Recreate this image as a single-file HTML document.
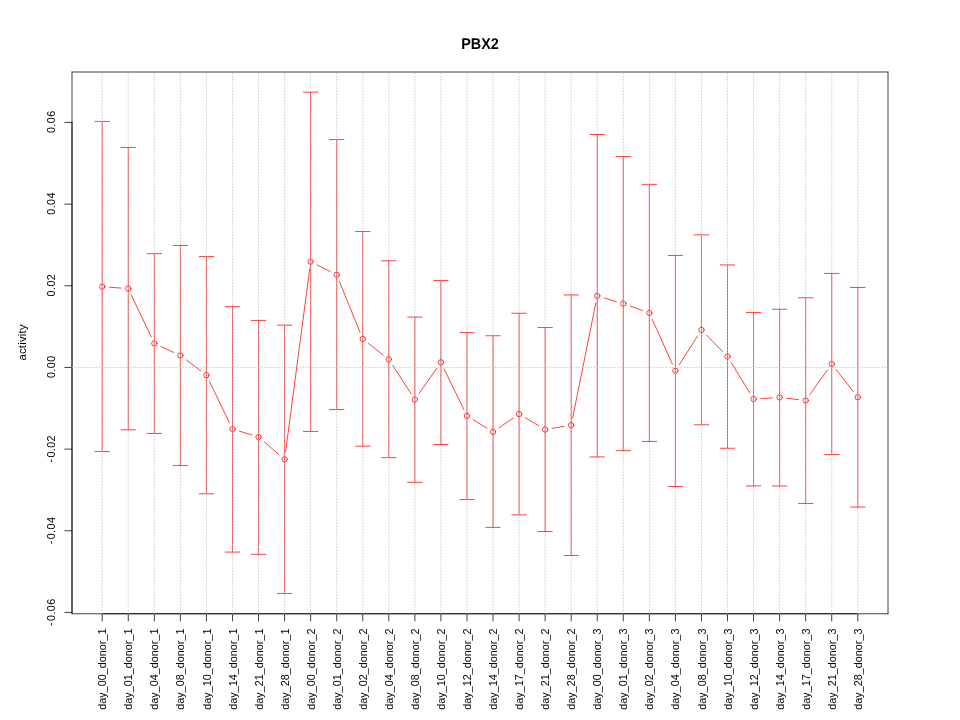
<!DOCTYPE html><html><head><meta charset="utf-8"><style>html,body{margin:0;padding:0;background:#fff;}svg{display:block;}text{font-family:"Liberation Sans",sans-serif;}</style></head><body>
<svg width="960" height="720" viewBox="0 0 960 720" style="will-change:transform">
<rect width="960" height="720" fill="#fff"/>
<path d="M102.22 121.45V451.55M95.02 121.45H109.42M95.02 451.55H109.42M128.28 147.45V429.85M121.08 147.45H135.48M121.08 429.85H135.48M154.33 253.65V433.45M147.13 253.65H161.53M147.13 433.45H161.53M180.38 245.45V465.45M173.18 245.45H187.58M173.18 465.45H187.58M206.44 256.55V493.75M199.24 256.55H213.64M199.24 493.75H213.64M232.49 306.65V552.05M225.29 306.65H239.69M225.29 552.05H239.69M258.54 320.45V554.35M251.34 320.45H265.74M251.34 554.35H265.74M284.6 325.15V593.45M277.4 325.15H291.8M277.4 593.45H291.8M310.65 92.15V431.45M303.45 92.15H317.85M303.45 431.45H317.85M336.7 139.55V409.55M329.5 139.55H343.9M329.5 409.55H343.9M362.76 231.55V446.15M355.56 231.55H369.96M355.56 446.15H369.96M388.81 260.75V457.65M381.61 260.75H396.01M381.61 457.65H396.01M414.87 317.05V482.35M407.67 317.05H422.07M407.67 482.35H422.07M440.92 280.45V444.55M433.72 280.45H448.12M433.72 444.55H448.12M466.97 332.65V499.55M459.77 332.65H474.17M459.77 499.55H474.17M493.03 335.75V527.35M485.83 335.75H500.23M485.83 527.35H500.23M519.08 313.25V514.85M511.88 313.25H526.28M511.88 514.85H526.28M545.13 327.55V531.55M537.93 327.55H552.33M537.93 531.55H552.33M571.19 294.95V555.45M563.99 294.95H578.39M563.99 555.45H578.39M597.24 134.55V456.95M590.04 134.55H604.44M590.04 456.95H604.44M623.3 156.55V450.65M616.1 156.55H630.5M616.1 450.65H630.5M649.35 184.35V441.45M642.15 184.35H656.55M642.15 441.45H656.55M675.4 255.45V486.55M668.2 255.45H682.6M668.2 486.55H682.6M701.46 234.85V424.75M694.26 234.85H708.66M694.26 424.75H708.66M727.51 264.95V448.25M720.31 264.95H734.71M720.31 448.25H734.71M753.56 312.55V485.95M746.36 312.55H760.76M746.36 485.95H760.76M779.62 309.25V485.95M772.42 309.25H786.82M772.42 485.95H786.82M805.67 297.75V503.45M798.47 297.75H812.87M798.47 503.45H812.87M831.72 273.45V454.55M824.52 273.45H838.92M824.52 454.55H838.92M857.78 287.45V507.05M850.58 287.45H864.98M850.58 507.05H864.98" stroke="#FF0000" stroke-width="0.75" stroke-linecap="round" fill="none"/>
<path d="M109.4 287.2L121.1 288.1M131.37 295.15L151.24 336.95M160.87 346.46L173.84 352.44M186.13 359.79L200.69 370.81M209.57 381.63L229.36 422.57M239.37 431.16L251.66 434.94M264.01 441.73L279.13 454.67M285.54 452.21L309.71 268.79M317.08 264.88L330.27 271.52M339.41 281.42L360.05 332.38M368.44 343.48L383.13 354.92M392.73 365.39L410.95 393.51M419 393.65L436.79 368.25M444.07 368.83L463.83 409.47M473.12 419.7L486.88 428.1M498.97 427.79L513.14 418.11M525.27 417.73L538.95 425.87M552.23 428.35L564.09 426.35M572.61 418.09L595.82 302.91M604.14 297.91L616.4 301.59M630.08 306.07L642.57 310.53M652.31 319.51L672.44 364.19M679.28 364.68L697.58 336.02M706.49 335.09L722.47 351.41M731.28 362.68L749.79 392.82M760.75 398.54L772.43 397.86M786.77 398.27L798.52 399.63M809.85 394.59L827.54 369.81M836.16 369.62L853.34 391.58" stroke="#FF0000" stroke-width="0.75" stroke-linecap="round" fill="none"/>
<g stroke="#FF0000" stroke-width="0.75" stroke-linecap="round" fill="none"><circle cx="102.22" cy="286.65" r="2.7"/><circle cx="128.28" cy="288.65" r="2.7"/><circle cx="154.33" cy="343.45" r="2.7"/><circle cx="180.38" cy="355.45" r="2.7"/><circle cx="206.44" cy="375.15" r="2.7"/><circle cx="232.49" cy="429.05" r="2.7"/><circle cx="258.54" cy="437.05" r="2.7"/><circle cx="284.6" cy="459.35" r="2.7"/><circle cx="310.65" cy="261.65" r="2.7"/><circle cx="336.7" cy="274.75" r="2.7"/><circle cx="362.76" cy="339.05" r="2.7"/><circle cx="388.81" cy="359.35" r="2.7"/><circle cx="414.87" cy="399.55" r="2.7"/><circle cx="440.92" cy="362.35" r="2.7"/><circle cx="466.97" cy="415.95" r="2.7"/><circle cx="493.03" cy="431.85" r="2.7"/><circle cx="519.08" cy="414.05" r="2.7"/><circle cx="545.13" cy="429.55" r="2.7"/><circle cx="571.19" cy="425.15" r="2.7"/><circle cx="597.24" cy="295.85" r="2.7"/><circle cx="623.3" cy="303.65" r="2.7"/><circle cx="649.35" cy="312.95" r="2.7"/><circle cx="675.4" cy="370.75" r="2.7"/><circle cx="701.46" cy="329.95" r="2.7"/><circle cx="727.51" cy="356.55" r="2.7"/><circle cx="753.56" cy="398.95" r="2.7"/><circle cx="779.62" cy="397.45" r="2.7"/><circle cx="805.67" cy="400.45" r="2.7"/><circle cx="831.72" cy="363.95" r="2.7"/><circle cx="857.78" cy="397.25" r="2.7"/></g>
<path d="M72 72H888" stroke="#000" stroke-width="0.75" stroke-linecap="round" fill="none"/>
<path d="M888 72V613.75" stroke="#000" stroke-width="0.75" stroke-linecap="round" fill="none"/>
<path d="M888 613.75H72" stroke="#000" stroke-width="0.75" stroke-linecap="round" fill="none"/>
<path d="M72 613.75V72" stroke="#000" stroke-width="0.75" stroke-linecap="round" fill="none"/>
<path d="M72 122.44V612.44M72 122.44H64.8M72 204.11H64.8M72 285.77H64.8M72 367.44H64.8M72 449.11H64.8M72 530.77H64.8M72 612.44H64.8M102.22 613.75H857.78M102.22 613.75V620.95M128.28 613.75V620.95M154.33 613.75V620.95M180.38 613.75V620.95M206.44 613.75V620.95M232.49 613.75V620.95M258.54 613.75V620.95M284.6 613.75V620.95M310.65 613.75V620.95M336.7 613.75V620.95M362.76 613.75V620.95M388.81 613.75V620.95M414.87 613.75V620.95M440.92 613.75V620.95M466.97 613.75V620.95M493.03 613.75V620.95M519.08 613.75V620.95M545.13 613.75V620.95M571.19 613.75V620.95M597.24 613.75V620.95M623.3 613.75V620.95M649.35 613.75V620.95M675.4 613.75V620.95M701.46 613.75V620.95M727.51 613.75V620.95M753.56 613.75V620.95M779.62 613.75V620.95M805.67 613.75V620.95M831.72 613.75V620.95M857.78 613.75V620.95" stroke="#000" stroke-width="0.75" stroke-linecap="round" fill="none"/>
<path d="M102.22 73.12V613.75M128.28 73.12V613.75M154.33 73.12V613.75M180.38 73.12V613.75M206.44 73.12V613.75M232.49 73.12V613.75M258.54 73.12V613.75M284.6 73.12V613.75M310.65 73.12V613.75M336.7 73.12V613.75M362.76 73.12V613.75M388.81 73.12V613.75M414.87 73.12V613.75M440.92 73.12V613.75M466.97 73.12V613.75M493.03 73.12V613.75M519.08 73.12V613.75M545.13 73.12V613.75M571.19 73.12V613.75M597.24 73.12V613.75M623.3 73.12V613.75M649.35 73.12V613.75M675.4 73.12V613.75M701.46 73.12V613.75M727.51 73.12V613.75M753.56 73.12V613.75M779.62 73.12V613.75M805.67 73.12V613.75M831.72 73.12V613.75M857.78 73.12V613.75" stroke="#BEBEBE" stroke-width="0.75" stroke-linecap="round" stroke-dasharray="0.75 2.25" fill="none"/>
<path d="M72 367.44H888" stroke="#BEBEBE" stroke-width="0.75" stroke-linecap="round" stroke-dasharray="0.75 2.25" fill="none"/>
<text transform="translate(55.1 121.74) rotate(-90)" text-anchor="middle" font-size="10.8" letter-spacing="0.4">0.06</text>
<text transform="translate(55.1 203.41) rotate(-90)" text-anchor="middle" font-size="10.8" letter-spacing="0.4">0.04</text>
<text transform="translate(55.1 285.07) rotate(-90)" text-anchor="middle" font-size="10.8" letter-spacing="0.4">0.02</text>
<text transform="translate(55.1 366.74) rotate(-90)" text-anchor="middle" font-size="10.8" letter-spacing="0.4">0.00</text>
<text transform="translate(55.1 448.81) rotate(-90)" text-anchor="middle" font-size="10.8" letter-spacing="0.4"><tspan dy="-1.3">-</tspan><tspan dy="1.3" dx="1">0.02</tspan></text>
<text transform="translate(55.1 530.47) rotate(-90)" text-anchor="middle" font-size="10.8" letter-spacing="0.4"><tspan dy="-1.3">-</tspan><tspan dy="1.3" dx="1">0.04</tspan></text>
<text transform="translate(55.1 612.14) rotate(-90)" text-anchor="middle" font-size="10.8" letter-spacing="0.4"><tspan dy="-1.3">-</tspan><tspan dy="1.3" dx="1">0.06</tspan></text>
<text transform="translate(106.3 628.6) rotate(-90)" text-anchor="end" font-size="10.8">day_00_donor_1</text>
<text transform="translate(132.36 628.6) rotate(-90)" text-anchor="end" font-size="10.8">day_01_donor_1</text>
<text transform="translate(158.41 628.6) rotate(-90)" text-anchor="end" font-size="10.8">day_04_donor_1</text>
<text transform="translate(184.46 628.6) rotate(-90)" text-anchor="end" font-size="10.8">day_08_donor_1</text>
<text transform="translate(210.52 628.6) rotate(-90)" text-anchor="end" font-size="10.8">day_10_donor_1</text>
<text transform="translate(236.57 628.6) rotate(-90)" text-anchor="end" font-size="10.8">day_14_donor_1</text>
<text transform="translate(262.62 628.6) rotate(-90)" text-anchor="end" font-size="10.8">day_21_donor_1</text>
<text transform="translate(288.68 628.6) rotate(-90)" text-anchor="end" font-size="10.8">day_28_donor_1</text>
<text transform="translate(314.73 628.6) rotate(-90)" text-anchor="end" font-size="10.8">day_00_donor_2</text>
<text transform="translate(340.78 628.6) rotate(-90)" text-anchor="end" font-size="10.8">day_01_donor_2</text>
<text transform="translate(366.84 628.6) rotate(-90)" text-anchor="end" font-size="10.8">day_02_donor_2</text>
<text transform="translate(392.89 628.6) rotate(-90)" text-anchor="end" font-size="10.8">day_04_donor_2</text>
<text transform="translate(418.95 628.6) rotate(-90)" text-anchor="end" font-size="10.8">day_08_donor_2</text>
<text transform="translate(445 628.6) rotate(-90)" text-anchor="end" font-size="10.8">day_10_donor_2</text>
<text transform="translate(471.05 628.6) rotate(-90)" text-anchor="end" font-size="10.8">day_12_donor_2</text>
<text transform="translate(497.11 628.6) rotate(-90)" text-anchor="end" font-size="10.8">day_14_donor_2</text>
<text transform="translate(523.16 628.6) rotate(-90)" text-anchor="end" font-size="10.8">day_17_donor_2</text>
<text transform="translate(549.21 628.6) rotate(-90)" text-anchor="end" font-size="10.8">day_21_donor_2</text>
<text transform="translate(575.27 628.6) rotate(-90)" text-anchor="end" font-size="10.8">day_28_donor_2</text>
<text transform="translate(601.32 628.6) rotate(-90)" text-anchor="end" font-size="10.8">day_00_donor_3</text>
<text transform="translate(627.38 628.6) rotate(-90)" text-anchor="end" font-size="10.8">day_01_donor_3</text>
<text transform="translate(653.43 628.6) rotate(-90)" text-anchor="end" font-size="10.8">day_02_donor_3</text>
<text transform="translate(679.48 628.6) rotate(-90)" text-anchor="end" font-size="10.8">day_04_donor_3</text>
<text transform="translate(705.54 628.6) rotate(-90)" text-anchor="end" font-size="10.8">day_08_donor_3</text>
<text transform="translate(731.59 628.6) rotate(-90)" text-anchor="end" font-size="10.8">day_10_donor_3</text>
<text transform="translate(757.64 628.6) rotate(-90)" text-anchor="end" font-size="10.8">day_12_donor_3</text>
<text transform="translate(783.7 628.6) rotate(-90)" text-anchor="end" font-size="10.8">day_14_donor_3</text>
<text transform="translate(809.75 628.6) rotate(-90)" text-anchor="end" font-size="10.8">day_17_donor_3</text>
<text transform="translate(835.8 628.6) rotate(-90)" text-anchor="end" font-size="10.8">day_21_donor_3</text>
<text transform="translate(861.86 628.6) rotate(-90)" text-anchor="end" font-size="10.8">day_28_donor_3</text>
<text transform="translate(26.1 342.4) rotate(-90)" text-anchor="middle" font-size="11.4" letter-spacing="0.2">activity</text>
<text transform="translate(480 49) matrix(1 0 0.001 1.08 0 0)" text-anchor="middle" font-size="14.4" font-weight="bold">PBX2</text>
</svg></body></html>
